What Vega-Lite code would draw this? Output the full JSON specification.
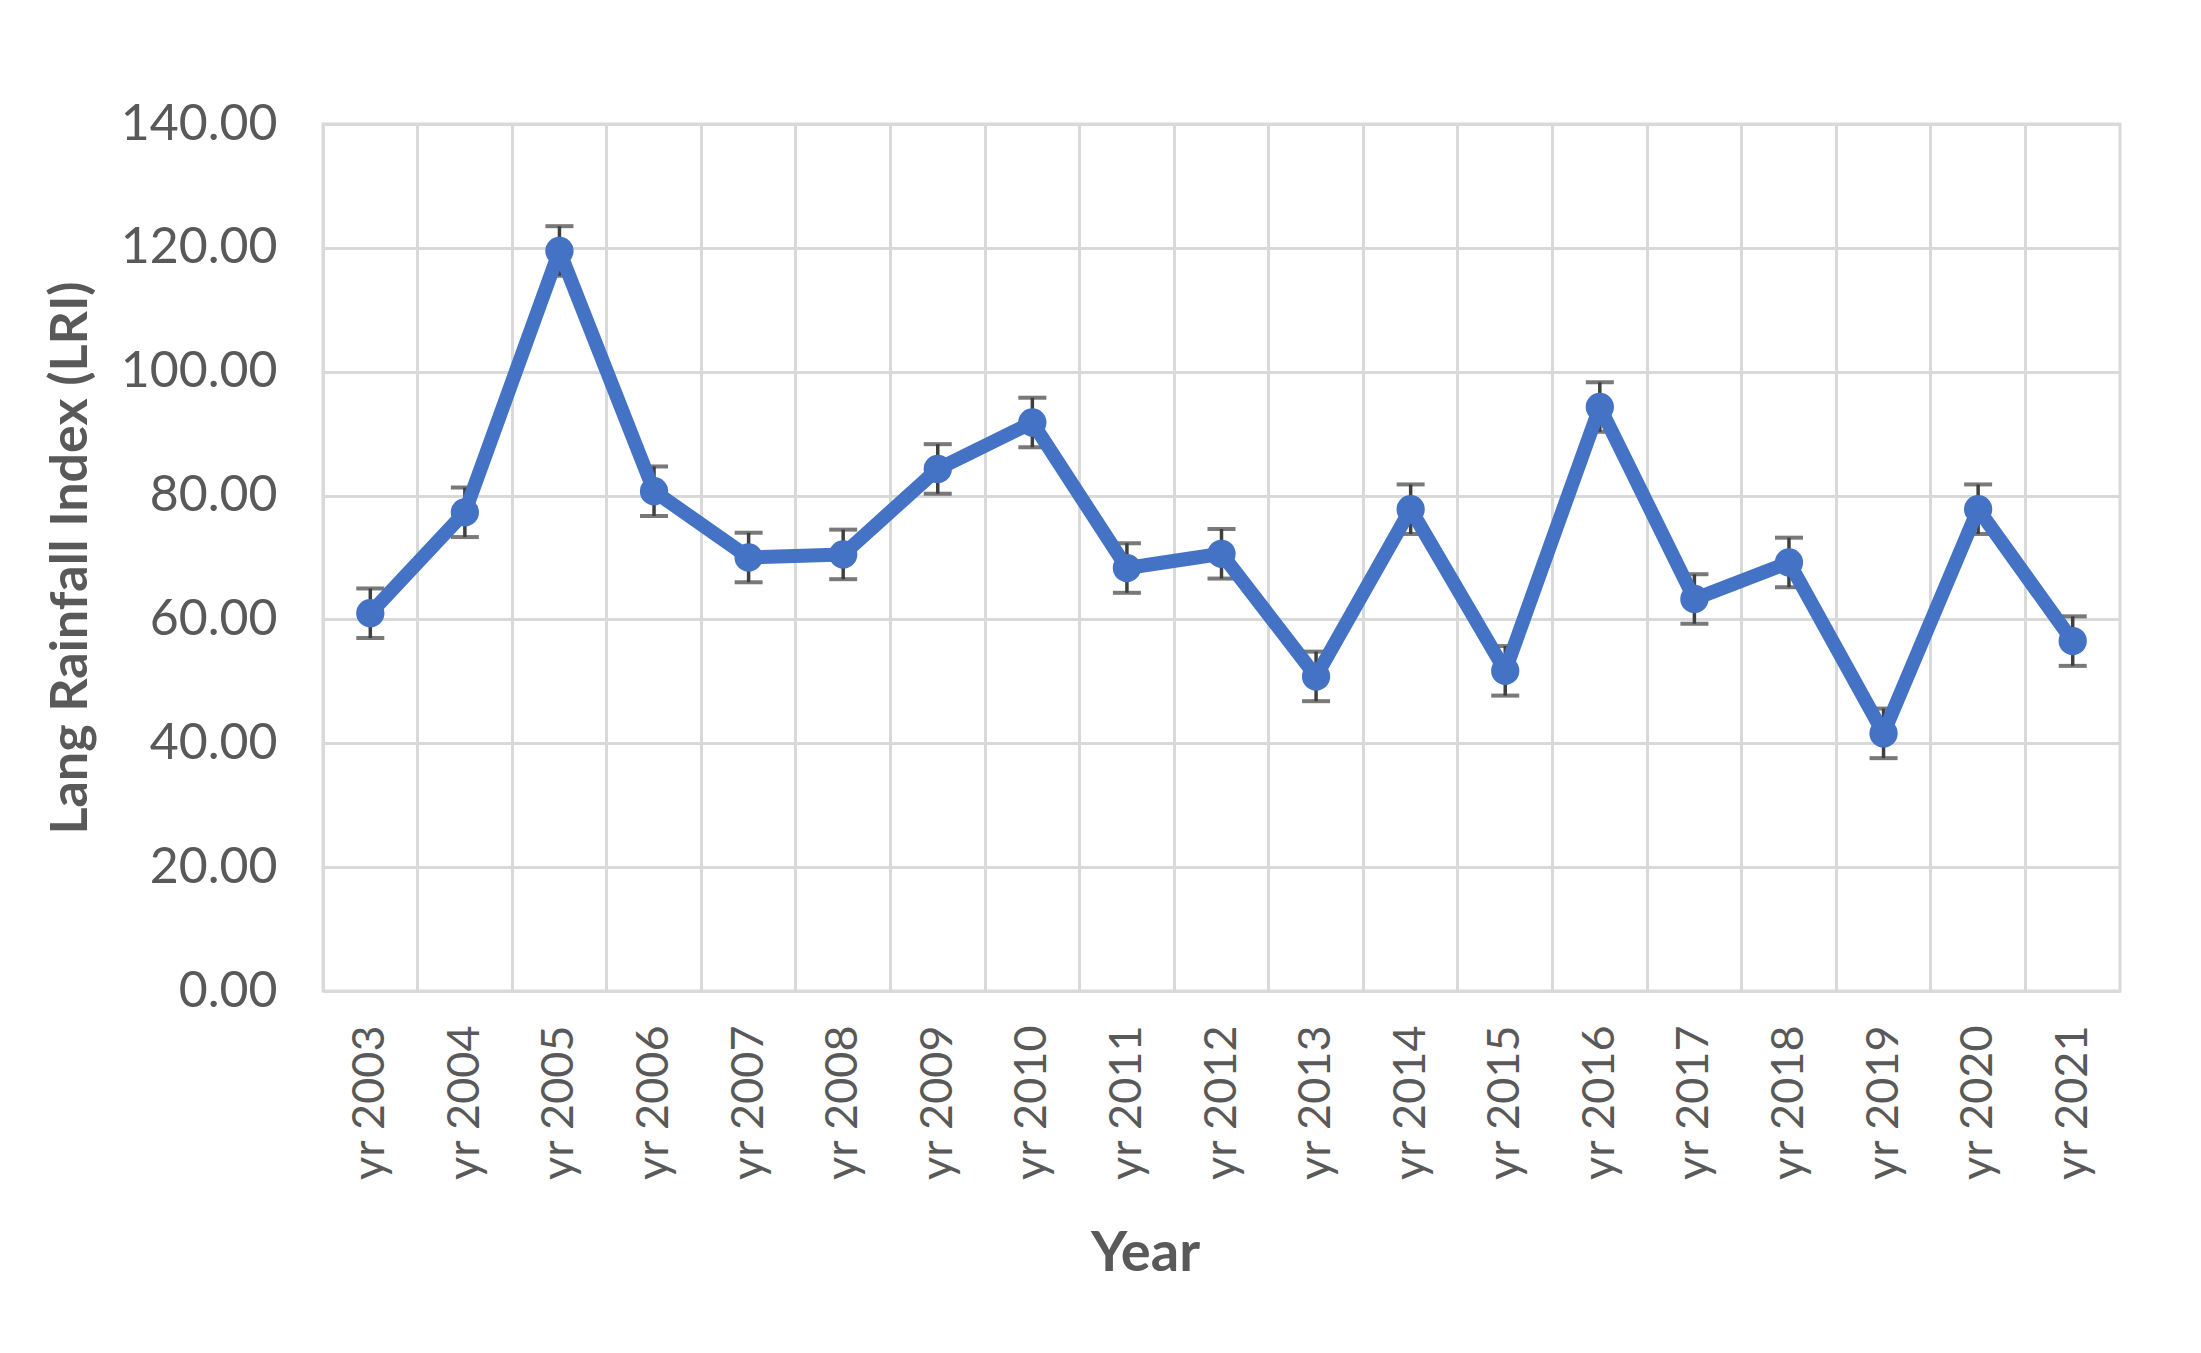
{
  "$schema": "https://vega.github.io/schema/vega-lite/v6.json",
  "width": 1797,
  "height": 867,
  "autosize": {"type": "none"},
  "padding": {"left": 323, "top": 124, "right": 81, "bottom": 362},
  "background": "white",
  "config": {
    "view": {"stroke": "#d9d9d9", "strokeWidth": 3},
    "font": "Lato"
  },
  "data": {
    "values": [
      {"year": "yr 2003", "lri": 61.0, "lo": 57.0, "hi": 65.0},
      {"year": "yr 2004", "lri": 77.3, "lo": 73.3, "hi": 81.3},
      {"year": "yr 2005", "lri": 119.5, "lo": 115.5, "hi": 123.5},
      {"year": "yr 2006", "lri": 80.7, "lo": 76.7, "hi": 84.7},
      {"year": "yr 2007", "lri": 70.0, "lo": 66.0, "hi": 74.0},
      {"year": "yr 2008", "lri": 70.5, "lo": 66.5, "hi": 74.5},
      {"year": "yr 2009", "lri": 84.3, "lo": 80.3, "hi": 88.3},
      {"year": "yr 2010", "lri": 91.8, "lo": 87.8, "hi": 95.8},
      {"year": "yr 2011", "lri": 68.3, "lo": 64.3, "hi": 72.3},
      {"year": "yr 2012", "lri": 70.6, "lo": 66.6, "hi": 74.6},
      {"year": "yr 2013", "lri": 50.8, "lo": 46.8, "hi": 54.8},
      {"year": "yr 2014", "lri": 77.8, "lo": 73.8, "hi": 81.8},
      {"year": "yr 2015", "lri": 51.7, "lo": 47.7, "hi": 55.7},
      {"year": "yr 2016", "lri": 94.3, "lo": 90.3, "hi": 98.3},
      {"year": "yr 2017", "lri": 63.3, "lo": 59.3, "hi": 67.3},
      {"year": "yr 2018", "lri": 69.2, "lo": 65.2, "hi": 73.2},
      {"year": "yr 2019", "lri": 41.6, "lo": 37.6, "hi": 45.6},
      {"year": "yr 2020", "lri": 77.8, "lo": 73.8, "hi": 81.8},
      {"year": "yr 2021", "lri": 56.5, "lo": 52.5, "hi": 60.5}
    ]
  },
  "encoding": {
    "x": {
      "field": "year",
      "type": "nominal",
      "sort": null,
      "scale": {"type": "band", "paddingInner": 0, "paddingOuter": 0},
      "axis": {
        "title": "Year",
        "bandPosition": 0,
        "labelAngle": 270,
        "labelPadding": 34,
        "labelOverlap": false,
        "labelFontSize": 45,
        "labelColor": "#595959",
        "ticks": false,
        "domain": false,
        "grid": true,
        "gridColor": "#d9d9d9",
        "gridWidth": 3,
        "titleFontSize": 56,
        "titleFontWeight": "bold",
        "titleColor": "#595959",
        "titleX": 822,
        "titleY": 262,
        "titleAlign": "center",
        "titleBaseline": "middle"
      }
    }
  },
  "layer": [
    {
      "mark": {"type": "rule", "color": "#404040", "strokeWidth": 3.5},
      "encoding": {
        "y": {
          "field": "lo",
          "type": "quantitative",
          "scale": {"domain": [0, 140], "nice": false},
          "axis": {
            "title": "Lang Rainfall Index (LRI)",
            "values": [0, 20, 40, 60, 80, 100, 120, 140],
            "format": ".2f",
            "labelPadding": 46,
            "labelFontSize": 50,
            "labelColor": "#595959",
            "ticks": false,
            "domain": false,
            "grid": true,
            "gridColor": "#d9d9d9",
            "gridWidth": 3,
            "titleFontSize": 52,
            "titleFontWeight": "bold",
            "titleColor": "#595959",
            "titleAngle": 270,
            "titleX": -253,
            "titleY": 433.5,
            "titleAlign": "center",
            "titleBaseline": "middle"
          }
        },
        "y2": {"field": "hi"}
      }
    },
    {
      "mark": {"type": "tick", "color": "#404040", "thickness": 4, "size": 28},
      "encoding": {"y": {"field": "lo", "type": "quantitative"}}
    },
    {
      "mark": {"type": "tick", "color": "#404040", "thickness": 4, "size": 28},
      "encoding": {"y": {"field": "hi", "type": "quantitative"}}
    },
    {
      "mark": {"type": "line", "color": "#4472C4", "strokeWidth": 14, "strokeJoin": "round"},
      "encoding": {"y": {"field": "lri", "type": "quantitative"}}
    },
    {
      "mark": {"type": "point", "filled": true, "opacity": 1, "color": "#4472C4", "size": 800},
      "encoding": {"y": {"field": "lri", "type": "quantitative"}}
    }
  ]
}
